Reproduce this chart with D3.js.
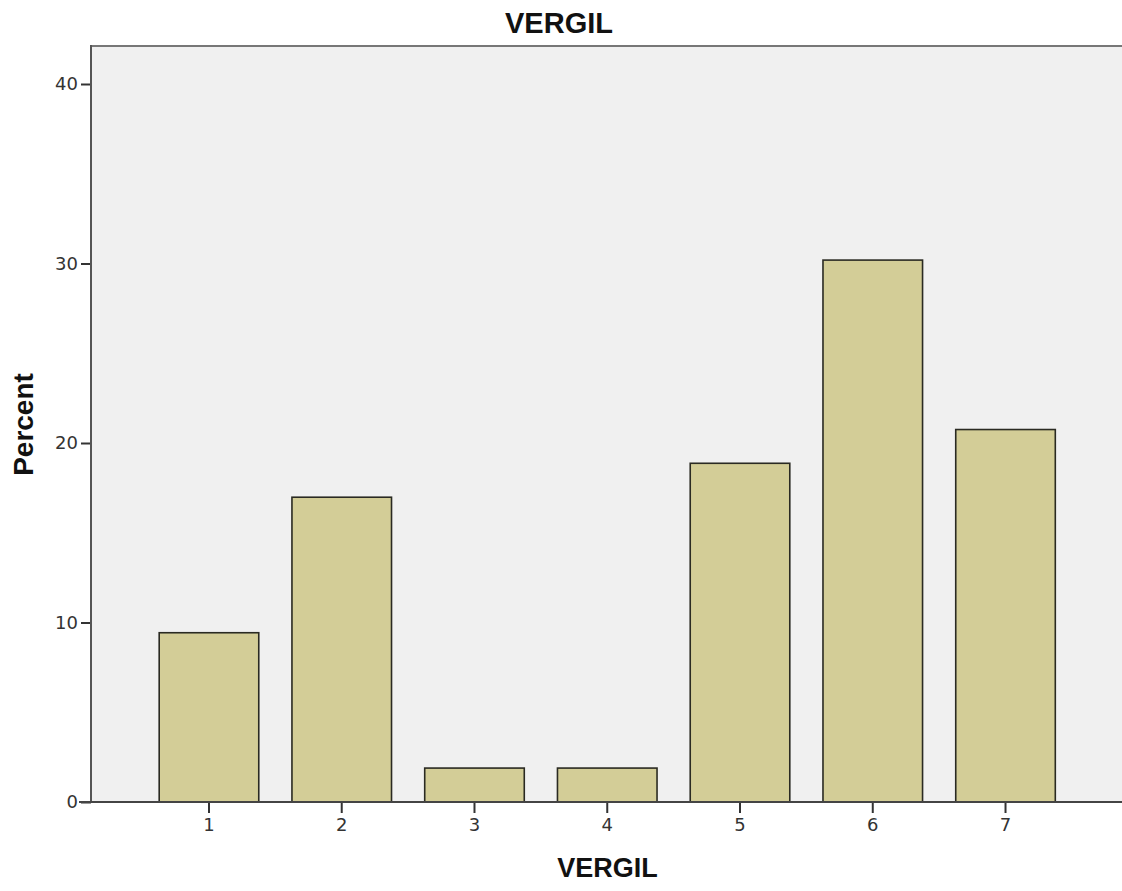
<!DOCTYPE html>
<html>
<head>
<meta charset="utf-8">
<script src="https://cdn.jsdelivr.net/npm/d3@7/dist/d3.min.js"></script>
<style>
  html, body { margin: 0; padding: 0; background: #fff; }
  svg { display: block; }
</style>
</head>
<body>
<svg id="chart" width="1122" height="891"></svg>
<script>
// Data (percent of 53 cases)
const categories = ["1", "2", "3", "4", "5", "6", "7"];
const percents = [9.43, 16.98, 1.89, 1.89, 18.87, 30.19, 20.75];
const yTicks = [0, 10, 20, 30, 40];
const chartTitle = "VERGIL";
const xTitle = "VERGIL";
const yTitle = "Percent";

const svg = d3.select("#chart");
const plot = { left: 91, top: 46, right: 1130, bottom: 802 };

const y = d3.scaleLinear().domain([0, 40]).range([802, 84]);
const x = d3.scaleBand().domain(categories)
  .range([142.6, 1071.9]).paddingInner(0.25).paddingOuter(0.125);

// background
svg.append("rect")
  .attr("x", plot.left).attr("y", plot.top)
  .attr("width", plot.right - plot.left).attr("height", plot.bottom - plot.top)
  .attr("fill", "#f0f0f0");

// bars
svg.append("g").selectAll("rect").data(percents).join("rect")
  .attr("x", (d, i) => x(categories[i]))
  .attr("y", d => y(d))
  .attr("width", x.bandwidth())
  .attr("height", d => y(0) - y(d))
  .attr("fill", "#d3cd97")
  .attr("stroke", "#2a2a22")
  .attr("stroke-width", 1.6);

// top frame line
svg.append("line")
  .attr("x1", plot.left).attr("x2", plot.right)
  .attr("y1", plot.top).attr("y2", plot.top)
  .attr("stroke", "#777").attr("stroke-width", 2);

// y axis
const yAxis = svg.append("g")
  .attr("transform", `translate(${plot.left},0)`)
  .call(d3.axisLeft(y).tickValues(yTicks).tickSize(10).tickPadding(3).tickSizeOuter(0));
yAxis.select(".domain").remove();
yAxis.append("line").attr("x1", 0).attr("x2", 0).attr("y1", plot.top - 1).attr("y2", plot.bottom + 1)
  .attr("stroke", "#555").attr("stroke-width", 2);
yAxis.selectAll(".tick line").attr("stroke", "#333").attr("stroke-width", 2);
yAxis.selectAll(".tick text")
  .attr("font-family", "DejaVu Sans, sans-serif").attr("font-size", 18).attr("fill", "#333");

// x axis
const xAxis = svg.append("g")
  .attr("transform", `translate(0,${plot.bottom})`)
  .call(d3.axisBottom(x).tickSize(11).tickPadding(5).tickSizeOuter(0));
xAxis.select(".domain").remove();
xAxis.append("line").attr("x1", plot.left - 12).attr("x2", plot.right).attr("y1", 0).attr("y2", 0)
  .attr("stroke", "#444").attr("stroke-width", 2);
xAxis.selectAll(".tick line").attr("stroke", "#333").attr("stroke-width", 2);
xAxis.selectAll(".tick text")
  .attr("font-family", "DejaVu Sans, sans-serif").attr("font-size", 18).attr("fill", "#333");

// titles
svg.append("text")
  .attr("x", 559).attr("y", 33)
  .attr("text-anchor", "middle")
  .attr("font-family", "Liberation Sans, Arial, sans-serif")
  .attr("font-weight", "bold").attr("font-size", 29).attr("fill", "#111")
  .text(chartTitle);

svg.append("text")
  .attr("x", 607.5).attr("y", 877)
  .attr("text-anchor", "middle")
  .attr("font-family", "Liberation Sans, Arial, sans-serif")
  .attr("font-weight", "bold").attr("font-size", 27).attr("fill", "#111")
  .text(xTitle);

svg.append("text")
  .attr("transform", "translate(33,424.5) rotate(-90)")
  .attr("text-anchor", "middle")
  .attr("font-family", "Liberation Sans, Arial, sans-serif")
  .attr("font-weight", "bold").attr("font-size", 28).attr("fill", "#111")
  .text(yTitle);
</script>
</body>
</html>
